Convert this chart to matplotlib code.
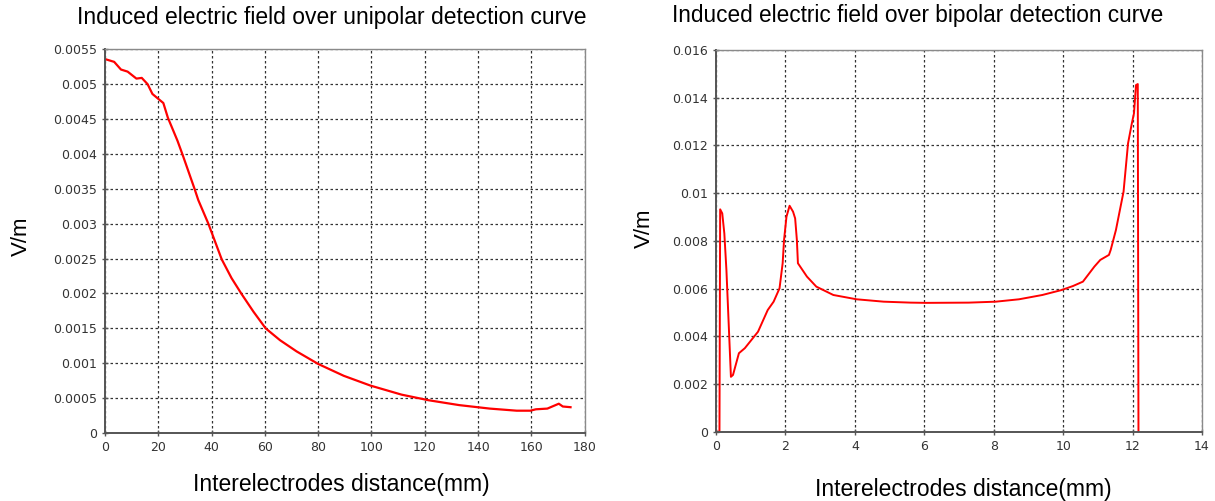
import matplotlib
matplotlib.use("Agg")
import matplotlib.pyplot as plt

# unipolar detection curve (distance in mm, field in V/m)
uni_x = [0, 3.45, 6.0, 8.5, 11.8, 13.8, 16, 17.8, 20, 21.9, 23.6, 27.2, 29.3, 33.7,
         35.0, 38.8, 43.8, 47.5, 51.3, 55.7, 60.3, 65.7, 71.9, 80.0, 89.6, 99.6,
         111.3, 121.4, 132.9, 144.4, 154.5, 159.6, 161.7, 166, 170.3, 171.8, 174.7]
uni_y = [0.00536, 0.00532, 0.00521, 0.00518, 0.00508, 0.00509, 0.00500, 0.00486,
         0.00479, 0.00473, 0.00452, 0.00419, 0.00397, 0.00349, 0.00334, 0.00300,
         0.00249, 0.00222, 0.00199, 0.00174, 0.00150, 0.00133, 0.00117, 0.00099,
         0.00082, 0.00068, 0.00055, 0.00047, 0.00040, 0.00035, 0.00032, 0.00032,
         0.00034, 0.00035, 0.00042, 0.00038, 0.00037]

# bipolar detection curve
bi_x = [0.0, 0.10, 0.12, 0.18, 0.24, 0.30, 0.43, 0.49, 0.66, 0.83, 1.21, 1.49, 1.66,
        1.83, 1.92, 1.96, 2.03, 2.12, 2.22, 2.28, 2.33, 2.36, 2.62, 2.89, 3.38,
        4.05, 4.83, 5.61, 6.06, 7.28, 8.06, 8.73, 9.40, 9.96, 10.29, 10.57, 10.9,
        11.07, 11.32, 11.37, 11.52, 11.74, 11.87, 11.98, 12.04, 12.10, 12.15, 12.17]
bi_y = [0.0, 0.0, 0.00932, 0.00915, 0.00831, 0.00678, 0.00230, 0.00238, 0.00329,
        0.00350, 0.00419, 0.00510, 0.00545, 0.00601, 0.00706, 0.00803, 0.00901,
        0.00947, 0.00922, 0.00894, 0.00803, 0.00706, 0.00650, 0.00608, 0.00573,
        0.00555, 0.00545, 0.00541, 0.00540, 0.00541, 0.00545, 0.00555, 0.00573,
        0.00594, 0.00611, 0.00629, 0.00692, 0.00720, 0.00741, 0.00762, 0.00845,
        0.01006, 0.01209, 0.01293, 0.01334, 0.01453, 0.01457, 0.0]

uni_xticks = list(range(0, 181, 20))
uni_yticks = [0, 0.0005, 0.001, 0.0015, 0.002, 0.0025, 0.003, 0.0035, 0.004,
              0.0045, 0.005, 0.0055]
uni_ylabels = ["0", "0.0005", "0.001", "0.0015", "0.002", "0.0025", "0.003",
               "0.0035", "0.004", "0.0045", "0.005", "0.0055"]
bi_xticks = list(range(0, 15, 2))
bi_yticks = [0, 0.002, 0.004, 0.006, 0.008, 0.01, 0.012, 0.014, 0.016]
bi_ylabels = ["0", "0.002", "0.004", "0.006", "0.008", "0.01", "0.012", "0.014", "0.016"]

plt.rcParams["font.family"] = ["Liberation Sans", "DejaVu Sans"]

fig = plt.figure(figsize=(12.15, 5.01), dpi=100)
ax1 = fig.add_axes([0.0864, 0.1357, 0.3948, 0.7659])
ax2 = fig.add_axes([0.5893, 0.1383, 0.4, 0.762])


def style(ax, xticks, yticks, ylabels, xmax, ymax):
    ax.set_xlim(0, xmax)
    ax.set_ylim(0, ymax)
    ax.set_xticks(xticks)
    ax.set_yticks(yticks)
    ax.set_yticklabels(ylabels)
    ax.grid(True, color="#333333", linestyle=(0, (2, 2)), linewidth=0.9)
    for s in ("left", "bottom"):
        ax.spines[s].set_color("#555555")
        ax.spines[s].set_linewidth(1.4)
    for s in ("top", "right"):
        ax.spines[s].set_color("#8a8a8a")
        ax.spines[s].set_linewidth(1.0)
    ax.tick_params(direction="inout", length=5, width=1, color="#555555",
                   labelsize=9, labelcolor="#333333")
    for lab in ax.get_xticklabels() + ax.get_yticklabels():
        lab.set_family("DejaVu Sans")


ax1.plot(uni_x, uni_y, color="red", linewidth=1.6)
style(ax1, uni_xticks, uni_yticks, uni_ylabels, 180, 0.0055)
ax2.plot(bi_x, bi_y, color="red", linewidth=1.4)
style(ax2, bi_xticks, bi_yticks, bi_ylabels, 14, 0.016)

fig.text(0.273, 0.952, "Induced electric field over unipolar detection curve",
         ha="center", va="baseline", fontsize=16.5)
fig.text(0.755, 0.956, "Induced electric field over bipolar detection curve",
         ha="center", va="baseline", fontsize=16.3)
fig.text(0.2807, 0.020, "Interelectrodes distance(mm)", ha="center", va="baseline",
         fontsize=16.5)
fig.text(0.793, 0.010, "Interelectrodes distance(mm)", ha="center", va="baseline",
         fontsize=16.5)
fig.text(0.018, 0.5276, "V/m", rotation=90, ha="center", va="center", fontsize=16)
fig.text(0.530, 0.5443, "V/m", rotation=90, ha="center", va="center", fontsize=16)

fig.savefig("out.png", dpi=100)
